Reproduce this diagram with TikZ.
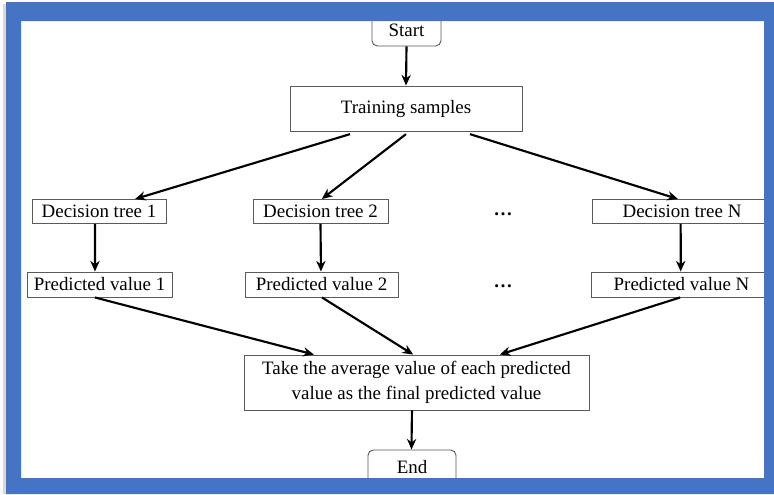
\documentclass[tikz,border=0pt]{standalone}
\usepackage{fontspec}
\setmainfont{Liberation Serif}
\usetikzlibrary{arrows.meta}
\definecolor{frameblue}{RGB}{70,116,197}
\definecolor{boxline}{RGB}{90,90,90}
\tikzset{
  box/.style={draw=boxline, line width=0.7pt, fill=white, inner sep=0pt, align=center,
    font=\fontsize{14.2}{17}\selectfont},
  rbox/.style={box, rounded corners=4pt},
  arr/.style={line width=1.6pt, -{Stealth[length=8pt,width=7pt]}},
  dots/.style={font=\fontsize{14.2}{17}\selectfont\bfseries, inner sep=0pt}
}
\newcommand{\dn}[2]{\raisebox{-#1}{#2}}
\begin{document}
\begin{tikzpicture}[x=0.75pt,y=-0.75pt]
\useasboundingbox (0,0) rectangle (774,494);
\fill[white] (0,0) rectangle (774,494);
% nodes
\node[rbox, minimum width=51.75pt, minimum height=24pt] (start) at (406.5,30) {\dn{1.2pt}{Start}};
\node[box, minimum width=174pt, minimum height=33.75pt] (tr) at (406,108.5) {\dn{4pt}{Training samples}};
\node[box, minimum width=100.5pt, minimum height=18pt] (dt1) at (99,211.5) {\dn{1.6pt}{Decision tree 1}};
\node[box, minimum width=101.25pt, minimum height=18pt] (dt2) at (320.5,211.5) {\dn{1.6pt}{Decision tree 2}};
\node[dots] (d1) at (503,214) {…};
\node[box, minimum width=135pt, minimum height=18pt] (dtn) at (682,211.5) {\dn{1.6pt}{Decision tree N}};
\node[box, minimum width=108.75pt, minimum height=18.75pt] (pv1) at (99.5,284.5) {\dn{1.4pt}{Predicted value 1}};
\node[box, minimum width=114.75pt, minimum height=18.75pt] (pv2) at (321.5,284.5) {\dn{1.4pt}{Predicted value 2}};
\node[dots] (d2) at (503,286) {…};
\node[box, minimum width=135.75pt, minimum height=18.75pt] (pvn) at (681.5,284.5) {\dn{1.4pt}{Predicted value N}};
\node[box, minimum width=258.75pt, minimum height=41.25pt] (fin) at (416.5,382.5) {\dn{3.6pt}{\begin{tabular}{@{}c@{}}Take the average value of each predicted\\[1.2pt]value as the final predicted value\end{tabular}}};
\node[rbox, minimum width=66pt, minimum height=30pt, text depth=0pt] (end) at (412,470) {\raisebox{4.5pt}{End}};
% connectors
\draw[arr] (start.south) -- (tr.north);
\draw[arr] ([xshift=-42pt,yshift=-2pt]tr.south) -- ([xshift=27pt]dt1.north);
\draw[arr] ([yshift=-2pt]tr.south) -- ([xshift=1pt]dt2.north);
\draw[arr] ([xshift=48pt,yshift=-2pt]tr.south) -- ([xshift=-3pt]dtn.north);
\draw[arr] ([xshift=-3pt]dt1.south) -- ([xshift=-3.4pt]pv1.north);
\draw[arr] ([xshift=0pt]dt2.south) -- ([xshift=-0.4pt]pv2.north);
\draw[arr] ([xshift=-1pt]dtn.south) -- ([xshift=-0.6pt]pvn.north);
\draw[arr] ([xshift=-3.4pt]pv1.south) -- ([xshift=-77pt]fin.north);
\draw[arr] ([xshift=0.4pt]pv2.south) -- ([xshift=-2.5pt]fin.north);
\draw[arr] ([xshift=-1pt]pvn.south) -- ([xshift=62.5pt]fin.north);
\draw[arr] ([xshift=-3.4pt]fin.south) -- ([xshift=-0.4pt]end.north);
% frame
\fill[black!15] (3,4) rectangle (6,494);
\fill[frameblue, even odd rule] (6,2) rectangle (774,494) (21,21) rectangle (764,478);
\end{tikzpicture}
\end{document}
